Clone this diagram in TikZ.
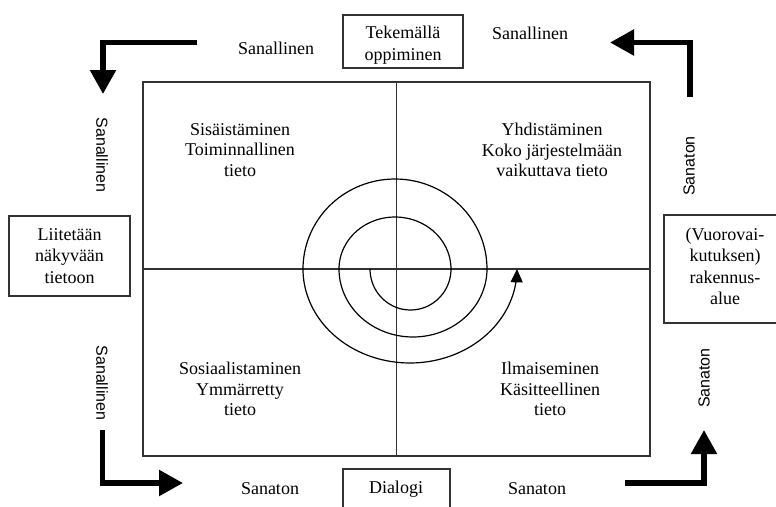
\documentclass[tikz,border=0pt]{standalone}
\usepackage{fontspec}
\setmainfont{Liberation Serif}
\newfontfamily\sidefont{Liberation Sans}
\usetikzlibrary{arrows.meta}
\begin{document}
\begin{tikzpicture}[x=0.75pt,y=-0.75pt,
  txt/.style={font=\fontsize{13.5}{15.5}\selectfont, align=center, inner sep=0pt},
  boxtxt/.style={font=\fontsize{13.5}{16}\selectfont, align=center, inner sep=0pt},
  side/.style={font=\sidefont\fontsize{12}{14}\selectfont, inner sep=0pt},
  boxline/.style={draw=black!80, line width=0.8pt},
  bigarrow/.style={line width=4pt, line join=miter, -{Triangle[width=18.75pt,length=18pt]}},
  spiral/.style={line width=0.9pt, -{Triangle[width=9pt,length=10pt]}}]
\useasboundingbox (0,0) rectangle (776,507);

% main frame and dividers
\node[boxline, minimum width=380.25pt, minimum height=280.5pt, inner sep=0pt] (frame) at (396.5,269) {};
\draw[boxline] (frame.north) -- (frame.south);
\draw[boxline] (frame.west) -- (frame.east);

% quadrant texts
\node[txt] (q1) at (240,150) {Sisäistäminen\\Toiminnallinen\\tieto};
\node[txt] (q2) at (552,150) {Yhdistäminen\\Koko järjestelmään\\vaikuttava tieto};
\node[txt] (q3) at (240,389) {Sosiaalistaminen\\Ymmärretty\\tieto};
\node[txt] (q4) at (550,389) {Ilmaiseminen\\Käsitteellinen\\tieto};

% boxes
\node[boxline, minimum width=90pt, minimum height=39.75pt, inner sep=0pt] (tek) at (403,41.5) {};
\node[font=\fontsize{13.5}{16.5}\selectfont, align=center, inner sep=0pt] (tektxt) at (403,45) {Tekemällä\\oppiminen};
\node[boxline, boxtxt, minimum width=90.75pt, minimum height=60pt] (liit) at (69.5,256) {Liitetään\\näkyvään\\tietoon};
\draw[boxline] (776,215) -- (664,215) -- (664,323) -- (776,323);
\node[boxtxt] (vuoro) at (725,266.5) {(Vuorovai-\\kutuksen)\\rakennus-\\alue};
\draw[boxline] (343,507) -- (343,469) -- (450,469) -- (450,507);
\node[txt] (dialogi) at (396,489) {Dialogi};

% outer labels
\node[txt] (tl) at (276,48) {Sanallinen};
\node[txt] (tr) at (530,33) {Sanallinen};
\node[txt] (bl) at (270,489) {Sanaton};
\node[txt] (br) at (537,489) {Sanaton};
\node[side, rotate=-90] (sl1) at (102,155) {Sanallinen};
\node[side, rotate=-90] (sl2) at (102,383) {Sanallinen};
\node[side, rotate=90] (sr1) at (689,166) {Sanaton};
\node[side, rotate=90] (sr2) at (704,378) {Sanaton};

% thick corner arrows
\coordinate (a1s) at (197,42.5); \coordinate (a1c) at (103,42.5); \coordinate (a1e) at (103,94);
\coordinate (a2s) at (690,96.5); \coordinate (a2c) at (690,42.5); \coordinate (a2e) at (610,42.5);
\coordinate (a3s) at (102.5,430); \coordinate (a3c) at (102.5,483); \coordinate (a3e) at (183,483);
\coordinate (a4s) at (625,483); \coordinate (a4c) at (704,483); \coordinate (a4e) at (704,430);
\draw[bigarrow] (a1s) -- (a1c) -- (a1e);
\draw[bigarrow] (a2s) -- (a2c) -- (a2e);
\draw[bigarrow] (a3s) -- (a3c) -- (a3e);
\draw[bigarrow] (a4s) -- (a4c) -- (a4e);

% spiral
\draw[spiral]
  plot[domain=180:0, samples=40] ({410.5+40.5*cos(\x)},{269+41*sin(\x)})
  -- plot[domain=0:-180, samples=50] ({395+56*cos(\x)},{269+52*sin(\x)})
  -- plot[domain=180:0, samples=60] ({413+74*cos(\x)},{269+68*sin(\x)})
  -- plot[domain=0:-180, samples=70] ({395+92*cos(\x)},{269+90*sin(\x)})
  -- plot[domain=180:0, samples=80] ({410+107*cos(\x)},{269+94*sin(\x)});
\end{tikzpicture}
\end{document}
